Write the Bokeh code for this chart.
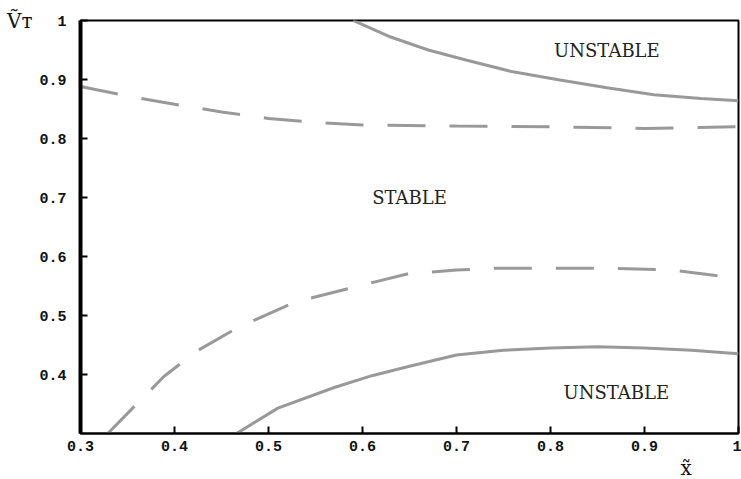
from bokeh.plotting import figure
from bokeh.models import Label, Range1d, FixedTicker, Title
from bokeh.embed import file_html
from bokeh.resources import INLINE

# Upper stability boundary (solid)
upper_solid_x = [0.59, 0.63, 0.67, 0.71, 0.76, 0.81, 0.86, 0.91, 0.96, 1.0]
upper_solid_y = [1.0, 0.972, 0.950, 0.933, 0.913, 0.899, 0.886, 0.874, 0.868, 0.864]

# Upper dashed curve
upper_dash_x = [0.30, 0.35, 0.40, 0.45, 0.50, 0.55, 0.60, 0.70, 0.80, 0.90, 1.0]
upper_dash_y = [0.888, 0.872, 0.858, 0.845, 0.834, 0.827, 0.823, 0.821, 0.820, 0.817, 0.820]

# Lower dashed curve
lower_dash_x = [0.329, 0.358, 0.389, 0.424, 0.469, 0.529, 0.596, 0.649, 0.70, 0.738, 0.80, 0.867, 0.93, 1.0]
lower_dash_y = [0.300, 0.347, 0.397, 0.440, 0.481, 0.523, 0.550, 0.571, 0.577, 0.580, 0.580, 0.580, 0.577, 0.563]

# Lower stability boundary (solid)
lower_solid_x = [0.466, 0.51, 0.57, 0.61, 0.65, 0.70, 0.75, 0.80, 0.85, 0.90, 0.95, 1.0]
lower_solid_y = [0.300, 0.343, 0.378, 0.398, 0.414, 0.433, 0.441, 0.445, 0.447, 0.445, 0.441, 0.435]

x_ticks = [0.3, 0.4, 0.5, 0.6, 0.7, 0.8, 0.9, 1.0]
y_ticks = [0.4, 0.5, 0.6, 0.7, 0.8, 0.9, 1.0]

p = figure(width=741, height=479, output_backend="svg", toolbar_location=None,
           x_range=Range1d(0.3, 1.0), y_range=Range1d(0.3, 1.0),
           min_border_left=80, min_border_right=3, min_border_top=20, min_border_bottom=8)

p.background_fill_color = "white"
p.border_fill_color = "white"
p.outline_line_color = "black"
p.outline_line_width = 2
p.xgrid.visible = False
p.ygrid.visible = False

for ax in (p.xaxis[0], p.yaxis[0]):
    ax.axis_line_color = "black"
    ax.axis_line_width = 2
    ax.major_tick_in = 7
    ax.major_tick_out = 0
    ax.major_tick_line_width = 2
    ax.minor_tick_line_color = None
    ax.major_label_text_font = "Liberation Mono"
    ax.major_label_text_font_style = "bold"
    ax.major_label_text_font_size = "15px"
    ax.major_label_text_color = "#111111"
    ax.major_label_overrides = {1.0: "1", 1: "1"}
    ax.axis_label_text_font = "DejaVu Serif"
    ax.axis_label_text_font_style = "normal"
    ax.axis_label_text_color = "#111111"

xa = p.xaxis[0]
ya = p.yaxis[0]
ya.axis_line_width = 4
xa.ticker = FixedTicker(ticks=x_ticks)
ya.ticker = FixedTicker(ticks=y_ticks)
xa.major_label_standoff = 7
ya.major_label_standoff = 14

ya.axis_label = "V\u0303\u1d1b"
ya.axis_label_text_font_size = "20px"
ya.axis_label_orientation = "horizontal"
ya.axis_label_standoff = 4
ya.axis_label_align = "end"
ya.axis_label_text_baseline = "top"

p.add_layout(Title(text="x\u0303", align="left", offset=600, standoff=0,
                   text_font="DejaVu Serif", text_font_size="20px",
                   text_font_style="normal", text_color="#111111"), "below")

curve_color = "#999999"
p.line(upper_solid_x, upper_solid_y, line_color=curve_color, line_width=3)
p.line(lower_solid_x, lower_solid_y, line_color=curve_color, line_width=3)
p.line(upper_dash_x, upper_dash_y, line_color=curve_color, line_width=3, line_dash="38 24")
p.line(lower_dash_x, lower_dash_y, line_color=curve_color, line_width=3, line_dash="38 24")

txt = dict(text_font="DejaVu Serif", text_font_size="18px", text_color="#222222",
           text_align="center", text_baseline="middle")
p.add_layout(Label(x=0.86, y=0.950, text="UNSTABLE", **txt))
p.add_layout(Label(x=0.65, y=0.700, text="STABLE", **txt))
p.add_layout(Label(x=0.87, y=0.370, text="UNSTABLE", **txt))

open("out.html", "w").write(file_html(p, INLINE))
